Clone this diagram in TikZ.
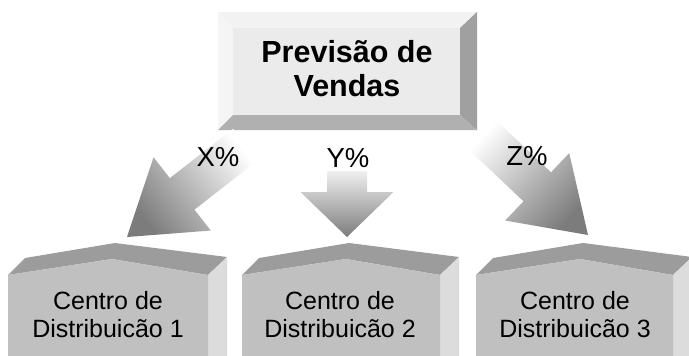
\documentclass[tikz,border=0pt]{standalone}
\usepackage{fontspec}
\setmainfont{Liberation Sans}
\definecolor{facec}{HTML}{EBEBEB}
\definecolor{bevtop}{HTML}{F2F2F2}
\definecolor{bevleft}{HTML}{F5F5F5}
\definecolor{bevright}{HTML}{A0A0A0}
\definecolor{bevbot}{HTML}{B0B0B0}
\definecolor{frontc}{HTML}{C0C0C0}
\definecolor{roofc}{HTML}{9C9C9C}
\definecolor{sidec}{HTML}{DCDCDC}
\definecolor{arrowdark}{HTML}{7C7C7C}
\definecolor{arrowmid}{HTML}{D0D0D0}
\newcommand{\warehouse}[2]{%
  \fill[roofc] (#1,275) -- ({#1+17},258) -- ({#1+107},243) -- ({#1+#2+19},257) -- ({#1+#2},275) -- ({#1+104},259) -- cycle;
  \fill[sidec] ({#1+#2},275) -- ({#1+#2+19},257) -- ({#1+#2+19},356) -- ({#1+#2},356) -- cycle;
  \fill[frontc] (#1,275) -- ({#1+104},259) -- ({#1+#2},275) -- ({#1+#2},356) -- (#1,356) -- cycle;}
% #1 tip name, #2 tip, #3 angle, #4 head length, #5 total length
\newcommand{\blockarrowpts}[5]{%
  \begin{scope}[shift={#2}, rotate=#3]
    \coordinate (#1t) at (0,0);
    \coordinate (#1b1) at (#4,46.5);
    \coordinate (#1b2) at (#4,-46.5);
    \coordinate (#1j1) at (#4,20);
    \coordinate (#1j2) at (#4,-20);
    \coordinate (#1e1) at (#5,20);
    \coordinate (#1e2) at (#5,-20);
  \end{scope}}
\tikzset{
  lbl/.style={font=\fontsize{25}{28}\selectfont, align=center, inner sep=0pt, text=black},
  pct/.style={font=\fontsize{27.5}{30}\selectfont, inner sep=0pt, text=black},
  title/.style={font=\fontsize{30.5}{34}\selectfont\bfseries, align=center, inner sep=0pt, text=black},
}
\begin{document}
\begin{tikzpicture}[x=1pt,y=-1pt]
\useasboundingbox (0,0) rectangle (689,356);
\clip (0,0) rectangle (689,356);
\fill[white] (0,0) rectangle (689,356);
% top bevel box
\fill[bevtop] (218,12) -- (477,12) -- (460,28) -- (233,28) -- cycle;
\fill[bevleft] (218,12) -- (233,28) -- (233,115) -- (218,130) -- cycle;
\fill[bevright] (477,12) -- (477,130) -- (460,115) -- (460,28) -- cycle;
\fill[bevbot] (218,130) -- (477,130) -- (460,115) -- (233,115) -- cycle;
\fill[facec] (233,28) rectangle (460,115);
\node[title] (prev) at (347,68.5) {Previsão de\\Vendas};
% warehouses
\warehouse{8}{200}
\warehouse{242}{198}
\warehouse{476}{197}
\node[lbl] (cd1) at (108,315) {Centro de\\Distribuicão 1};
\node[lbl] (cd2) at (340,315) {Centro de\\Distribuicão 2};
\node[lbl] (cd3) at (575,315) {Centro de\\Distribuicão 3};
% arrows
\blockarrowpts{a}{(127,237)}{38}{70}{150}
\blockarrowpts{b}{(347,237)}{90}{45}{66}
\blockarrowpts{c}{(588,235)}{136.5}{70}{150}
\shade[top color=white, middle color=arrowmid, bottom color=arrowdark, shading angle=-52]
  (at) -- (ab1) -- (aj1) -- (ae1) -- (ae2) -- (aj2) -- (ab2) -- cycle;
\shade[top color=black!6, bottom color=arrowdark, shading angle=0]
  (bt) -- (bb1) -- (bj1) -- (be1) -- (be2) -- (bj2) -- (bb2) -- cycle;
\shade[top color=white, middle color=arrowmid, bottom color=arrowdark, shading angle=46.5]
  (ct) -- (cb1) -- (cj1) -- (ce1) -- (ce2) -- (cj2) -- (cb2) -- cycle;
\node[pct] (x) at (218,157) {X\%};
\node[pct] (y) at (348,158) {Y\%};
\node[pct] (z) at (527,156) {Z\%};
\end{tikzpicture}
\end{document}
